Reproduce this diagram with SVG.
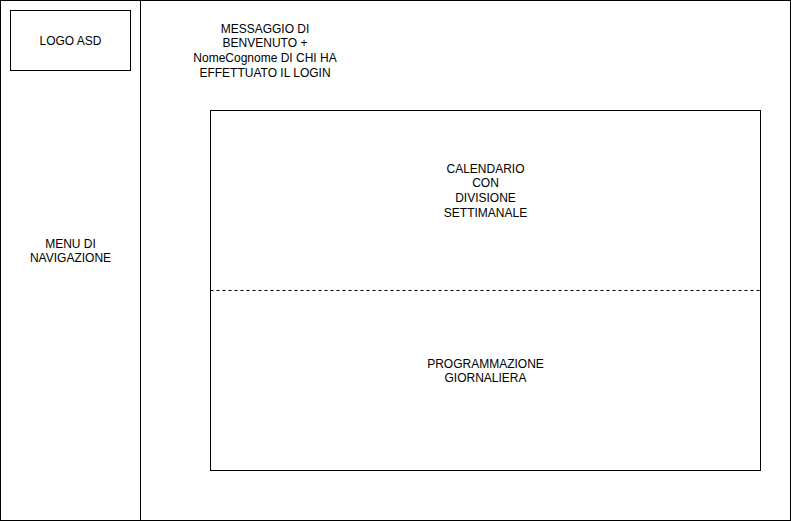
<svg xmlns="http://www.w3.org/2000/svg" width="791" height="521" viewBox="0 0 791 521">
<style>
.box{fill:#fff;stroke:#000;stroke-width:1}
.t{font-family:"Liberation Sans",Arial,sans-serif;font-size:12px;fill:#000;text-anchor:middle}
</style>
<rect x="0" y="0" width="791" height="521" fill="#fff"/>
<g id="page"><rect class="box" x="0.5" y="0.5" width="790" height="520"/></g>
<g id="menu">
<rect class="box" x="0.5" y="0.5" width="140" height="520"/>
<text class="t" x="70.5" y="247.5">MENU DI</text>
<text class="t" x="70.5" y="262">NAVIGAZIONE</text>
</g>
<g id="logo">
<rect class="box" x="10.5" y="10.5" width="120" height="60"/>
<text class="t" x="70.5" y="45">LOGO ASD</text>
</g>
<g id="welcome">
<text class="t" x="265" y="32.5">MESSAGGIO DI</text>
<text class="t" x="265" y="47">BENVENUTO +</text>
<text class="t" x="265" y="62">NomeCognome DI CHI HA</text>
<text class="t" x="265" y="76.5">EFFETTUATO IL LOGIN</text>
</g>
<g id="calendario">
<rect class="box" x="210.5" y="110.5" width="550" height="360"/>
<text class="t" x="485.5" y="172.5">CALENDARIO</text>
<text class="t" x="485.5" y="187">CON</text>
<text class="t" x="485.5" y="202">DIVISIONE</text>
<text class="t" x="485.5" y="216.5">SETTIMANALE</text>
</g>
<g id="connectors">
<line x1="210.5" y1="290.5" x2="760.5" y2="290.5" stroke="#000" stroke-width="1" stroke-dasharray="3 3"/>
</g>
<g id="programmazione">
<text class="t" x="485.5" y="367.5">PROGRAMMAZIONE</text>
<text class="t" x="485.5" y="382">GIORNALIERA</text>
</g>
</svg>
